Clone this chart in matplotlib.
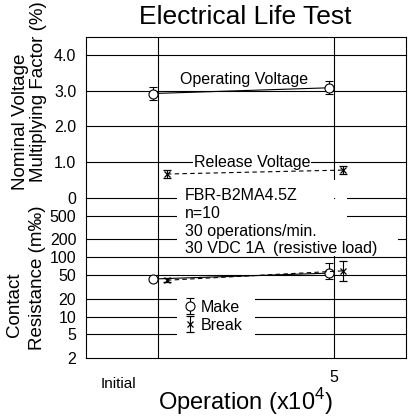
import numpy as np
import matplotlib.pyplot as plt
from matplotlib.patches import Rectangle

plt.rcParams['font.family'] = ['Liberation Sans', 'DejaVu Sans']
plt.rcParams['mathtext.fontset'] = 'custom'
plt.rcParams['mathtext.rm'] = 'Liberation Sans'

# operations (x10^4): initial and 5
ops = np.array([0, 5])
make_dx = -0.15   # make / operating markers sit left of the grid line
brk_dx = 0.25     # break / release markers sit right of it

# nominal voltage multiplying factor
op_volt = [2.92, 3.08]
op_err = [0.18, 0.18]
rel_volt = [0.67, 0.78]
rel_err = [0.11, 0.12]

# contact resistance (m‰)
make_res = [43, 54]
make_err = [[2, 11], [2, 25]]
break_res = [41, 59]
break_err = [[3, 19], [3, 29]]

volt_ticks = [0, 1.0, 2.0, 3.0, 4.0]
volt_labels = ['0', '1.0', '2.0', '3.0', '4.0']
res_ticks = [2, 5, 10, 20, 50, 100, 200, 500]
res_labels = ['2', '5', '10', '20', '50', '100', '200', '500']

spec_lines = ['FBR-B2MA4.5Z', 'n=10', '30 operations/min.', '30 VDC 1A  (resistive load)']

fig = plt.figure(figsize=(4.09, 4.20), dpi=100)
W, H = 409, 420
def box(l, t, r, b):
    return [l / W, 1 - b / H, (r - l) / W, (b - t) / H]

ax_top = fig.add_axes(box(86, 37, 406, 198))
ax_bot = fig.add_axes(box(86, 198, 406, 358))
ax_bot.patch.set_visible(False)

xlim = (-2.05, 7.05)
lw = 0.8
for ax in (ax_top, ax_bot):
    ax.set_xlim(*xlim)
    ax.tick_params(length=0, labelsize=11.5, pad=7)
    for s in ax.spines.values():
        s.set_linewidth(lw)
    ax.axvline(0, color='black', lw=lw, zorder=1)
    ax.axvline(5, color='black', lw=lw, zorder=1)

# ---- top panel: voltage ----
ax_top.set_ylim(0, 4.5)
ax_top.spines['bottom'].set_visible(False)
ax_top.set_xticks([])
ax_top.set_yticks(volt_ticks)
ax_top.set_yticklabels(volt_labels)
for v in volt_ticks:
    ax_top.axhline(v, color='black', lw=lw, zorder=1, clip_on=False)

ax_top.errorbar(ops + make_dx, op_volt, yerr=op_err, fmt='o', ls='-', color='black',
                mfc='white', ms=6.5, mew=0.8, lw=0.8, elinewidth=0.8, capsize=3, zorder=3)
ax_top.errorbar(ops + brk_dx, rel_volt, yerr=rel_err, fmt='x', ls=(0, (4, 3)), color='black',
                ms=5, mew=0.9, lw=0.8, elinewidth=0.8, capsize=3, zorder=3)

ax_top.text(2.45, 3.3, 'Operating Voltage', ha='center', va='center', fontsize=11.5)
ax_top.text(2.67, 1.0, 'Release Voltage', ha='center', va='center', fontsize=11.5,
            bbox=dict(fc='white', ec='none', pad=0.3), zorder=4)
ax_top.add_patch(Rectangle((0.54, -0.05), 5.37 - 0.54, 0.55, fc='white', ec='none',
                           zorder=2, clip_on=False))

# ---- bottom panel: contact resistance ----
ax_bot.set_yscale('log')
ax_bot.set_ylim(2, 1000)
ax_bot.spines['top'].set_visible(False)
ax_bot.set_yticks(res_ticks)
ax_bot.set_yticklabels(res_labels)
ax_bot.minorticks_off()
for v in res_ticks[1:]:
    ax_bot.axhline(v, color='black', lw=lw, zorder=1)

ax_bot.add_patch(Rectangle((0.54, 105), 5.37 - 0.54, 950 - 105, fc='white', ec='none', zorder=2))
ax_bot.add_patch(Rectangle((5.37, 120), 6.82 - 5.37, 350 - 120, fc='white', ec='none', zorder=2))
ax_bot.add_patch(Rectangle((0.54, 4), 2.76 - 0.54, 33 - 4, fc='white', ec='none', zorder=2))

mk = ax_bot.errorbar(ops + make_dx, make_res, yerr=make_err, fmt='o', ls='-', color='black',
                     mfc='white', ms=6.5, mew=0.8, lw=0.8, elinewidth=0.8, capsize=3, zorder=3)
bk = ax_bot.errorbar(ops + brk_dx, break_res, yerr=break_err, fmt='x', ls=(0, (4, 3)), color='black',
                     ms=5, mew=0.9, lw=0.8, elinewidth=0.8, capsize=3, zorder=3)

# legend proxies (markers with error bars only)
h_make = ax_bot.errorbar([np.nan], [np.nan], yerr=[1], fmt='o', ls='none', color='black',
                         mfc='white', ms=6.5, mew=0.8, elinewidth=0.8, capsize=3)
h_break = ax_bot.errorbar([np.nan], [np.nan], yerr=[1], fmt='x', ls='none', color='black',
                          ms=5, mew=0.9, elinewidth=0.8, capsize=3)
leg = ax_bot.legend([h_make, h_break], ['Make', 'Break'], loc='upper left',
                    bbox_to_anchor=(0.284, 0.40), frameon=True, fancybox=False,
                    fontsize=11.5, handlelength=0.9, handletextpad=0.25,
                    labelspacing=0.2, borderpad=0.35, borderaxespad=0)
leg.get_frame().set_facecolor('white')
leg.get_frame().set_edgecolor('none')
leg.get_frame().set_alpha(1)

# specification text drawn on the figure so it sits above both panels
for i, s in enumerate(spec_lines):
    fig.text(185 / W, 1 - (195 + i * 18) / H, s, ha='left', va='center', fontsize=11.5)

ax_bot.set_xticks([5])
ax_bot.set_xticklabels(['5'])
ax_bot.tick_params(axis='x', pad=9)
ax_bot.text(-1.14, -0.16, 'Initial', transform=ax_bot.get_xaxis_transform(),
            ha='center', va='center', fontsize=11)

# labels
fig.text(245 / W, 1 - 17 / H, 'Electrical Life Test', ha='center', va='center', fontsize=19)
fig.text(245 / W, 1 - 402 / H, 'Operation (x10$^{\\mathrm{4}}$)', ha='center', va='center', fontsize=17)
fig.text(21 / W, 1 - 122 / H, 'Nominal Voltage', rotation=90, ha='center', va='center', fontsize=13.5)
fig.text(39 / W, 1 - 92 / H, 'Multiplying Factor (%)', rotation=90, ha='center', va='center', fontsize=13.5)
fig.text(15 / W, 1 - 305 / H, 'Contact', rotation=90, ha='center', va='center', fontsize=13.5)
fig.text(37 / W, 1 - 278 / H, 'Resistance (m‰)', rotation=90, ha='center', va='center', fontsize=13.5)

fig.savefig('out.png', dpi=100)
